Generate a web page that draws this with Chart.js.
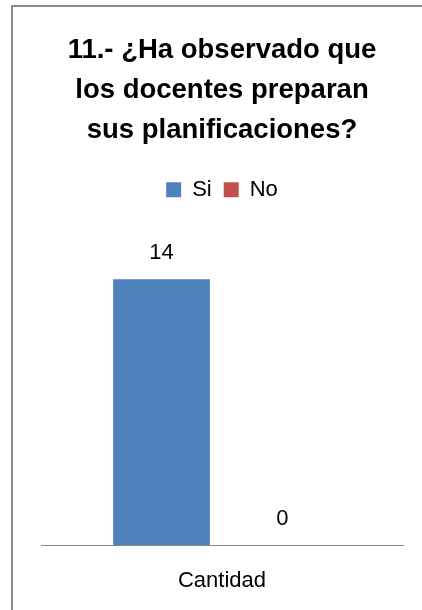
<!DOCTYPE html>
<html>
<head>
<meta charset="utf-8">
<script src="https://cdn.jsdelivr.net/npm/chart.js@4.4.0/dist/chart.umd.min.js"></script>
<style>
  html, body { margin: 0; padding: 0; background: #fff; overflow: hidden; }
  #frame {
    position: absolute; left: 11px; top: 5px;
    width: 600px; height: 800px;
    border: 2px solid #8a8a8a;
  }
  #wrap { position: absolute; left: 0; top: 0; width: 422px; height: 610px; }
</style>
</head>
<body>
<div id="frame"></div>
<div id="wrap"><canvas id="chart" width="422" height="610"></canvas></div>
<script>
// ---- data ----
const categories = ['Cantidad'];
const seriesNames = ['Si', 'No'];
const siValues = [14];
const noValues = [0];
const titleLines = ['11.- ¿Ha observado que', 'los docentes preparan', 'sus planificaciones?'];

const FONT = '"Liberation Sans", Arial, sans-serif';

// value labels above each bar
const valueLabels = {
  id: 'valueLabels',
  afterDatasetsDraw(chart) {
    const ctx = chart.ctx;
    ctx.save();
    ctx.font = '22px ' + FONT;
    ctx.fillStyle = '#000';
    ctx.textAlign = 'center';
    ctx.textBaseline = 'middle';
    chart.data.datasets.forEach((ds, i) => {
      chart.getDatasetMeta(i).data.forEach((bar, j) => {
        ctx.fillText(String(ds.data[j]), bar.x, bar.y - 26);
      });
    });
    ctx.restore();
  }
};

new Chart(document.getElementById('chart'), {
  type: 'bar',
  data: {
    labels: categories,
    datasets: [
      { label: seriesNames[0], data: siValues, backgroundColor: '#4F81BD' },
      { label: seriesNames[1], data: noValues, backgroundColor: '#C0504D' }
    ]
  },
  options: {
    responsive: false,
    animation: false,
    categoryPercentage: 0.668,
    barPercentage: 0.8,
    layout: { padding: { left: 41, right: 19, top: 8, bottom: 0 } },
    plugins: {
      title: {
        display: true,
        text: titleLines,
        color: '#000',
        font: { family: FONT, size: 27.5, weight: 'bold', lineHeight: 1.44 },
        padding: { top: 23, bottom: 17 }
      },
      legend: {
        position: 'top',
        labels: {
          color: '#000',
          font: { family: FONT, size: 22 },
          boxWidth: 15,
          boxHeight: 15,
          padding: 12
        }
      },
      tooltip: { enabled: false }
    },
    scales: {
      y: {
        display: false,
        min: 0,
        max: 17.6
      },
      x: {
        grid: { display: false, drawTicks: false },
        border: { display: true, color: '#898989', width: 1 },
        ticks: {
          color: '#000',
          font: { family: FONT, size: 22 },
          padding: 23
        },
        afterFit(scale) { scale.height = 65; }
      }
    }
  },
  plugins: [valueLabels]
});
</script>
</body>
</html>
